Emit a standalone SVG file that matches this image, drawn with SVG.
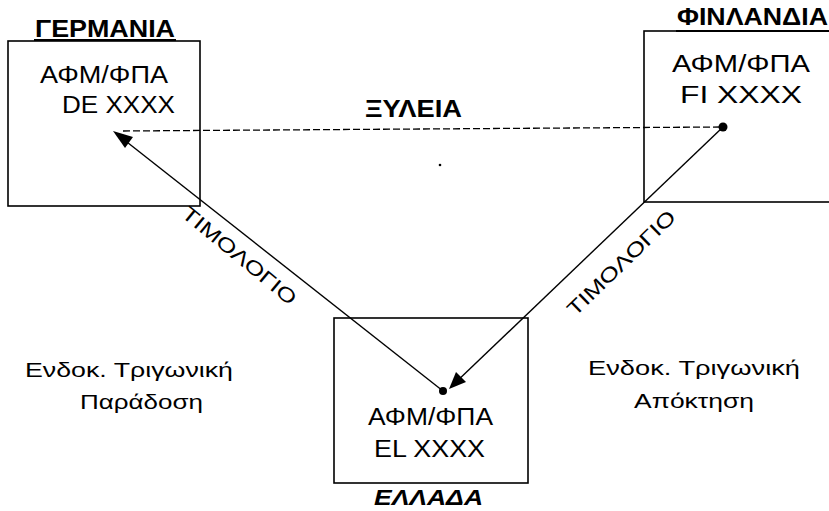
<svg xmlns="http://www.w3.org/2000/svg" width="829" height="511" viewBox="0 0 829 511">
<style>
.box{fill:none;stroke:#000;stroke-width:1.6}
.t{font-family:"Liberation Sans",Arial,sans-serif;font-size:23px;fill:#000}
.b{font-family:"Liberation Sans",Arial,sans-serif;font-size:23px;font-weight:bold;fill:#000}
.s{font-family:"Liberation Sans",Arial,sans-serif;font-size:20px;fill:#000}
.ln{stroke:#000;stroke-width:1.4;fill:none}
.dash{stroke:#000;stroke-width:1.3;fill:none;stroke-dasharray:7 3}
</style>
<rect width="829" height="511" fill="#fff"/>
<g id="germany">
<rect class="box" x="8" y="41" width="192" height="165"/>
<text class="b" x="35" y="37" textLength="140" lengthAdjust="spacingAndGlyphs">ΓΕΡΜΑΝΙΑ</text>
<line x1="34" y1="40" x2="176" y2="40" stroke="#000" stroke-width="2.2"/>
<text class="t" x="40" y="83" textLength="128" lengthAdjust="spacingAndGlyphs">ΑΦΜ/ΦΠΑ</text>
<text class="t" x="62" y="113" textLength="113" lengthAdjust="spacingAndGlyphs">DE XXXX</text>
</g>
<g id="finland">
<rect class="box" x="644" y="31" width="200" height="171"/>
<text class="b" x="677" y="25" textLength="151" lengthAdjust="spacingAndGlyphs">ΦΙΝΛΑΝΔΙΑ</text>
<line x1="676" y1="31" x2="829" y2="31" stroke="#000" stroke-width="2.2"/>
<text class="t" x="672" y="72" textLength="138" lengthAdjust="spacingAndGlyphs">ΑΦΜ/ΦΠΑ</text>
<text class="t" x="680" y="103" textLength="122" lengthAdjust="spacingAndGlyphs">FI XXXX</text>
</g>
<g id="greece">
<rect class="box" x="334" y="318" width="194" height="165"/>
<text class="t" x="368" y="425" textLength="125" lengthAdjust="spacingAndGlyphs">ΑΦΜ/ΦΠΑ</text>
<text class="t" x="374" y="457" textLength="111" lengthAdjust="spacingAndGlyphs">EL XXXX</text>
<text class="b" x="374" y="505" font-style="italic" textLength="109" lengthAdjust="spacingAndGlyphs">ΕΛΛΑΔΑ</text>
</g>
<g id="connectors">
<line class="dash" x1="720" y1="127" x2="120" y2="131"/>
<line class="ln" x1="443" y1="391" x2="118" y2="135"/>
<polygon points="113,131 133,137 125,148" fill="#000"/>
<circle cx="443" cy="391" r="4" fill="#000"/>
<line class="ln" x1="723" y1="127" x2="454" y2="384"/>
<polygon points="449,389 456,372 466,382" fill="#000"/>
<circle cx="723" cy="127" r="4.5" fill="#000"/>
<text class="b" x="365" y="117" textLength="97" lengthAdjust="spacingAndGlyphs">ΞΥΛΕΙΑ</text>
<text class="s" text-anchor="middle" transform="translate(235,261) rotate(39.5)" textLength="142" lengthAdjust="spacingAndGlyphs">ΤΙΜΟΛΟΓΙΟ</text>
<text class="s" text-anchor="middle" transform="translate(626,268) rotate(-44)" textLength="142" lengthAdjust="spacingAndGlyphs">ΤΙΜΟΛΟΓΙΟ</text>
</g>
<g id="labels">
<text class="s" x="25" y="377" textLength="208" lengthAdjust="spacingAndGlyphs">Ενδοκ. Τριγωνική</text>
<text class="s" x="80" y="409" textLength="123" lengthAdjust="spacingAndGlyphs">Παράδοση</text>
<text class="s" x="588" y="375" textLength="212" lengthAdjust="spacingAndGlyphs">Ενδοκ. Τριγωνική</text>
<text class="s" x="634" y="408" textLength="120" lengthAdjust="spacingAndGlyphs">Απόκτηση</text>
<circle cx="440" cy="165" r="1.3" fill="#000"/>
</g>
</svg>
